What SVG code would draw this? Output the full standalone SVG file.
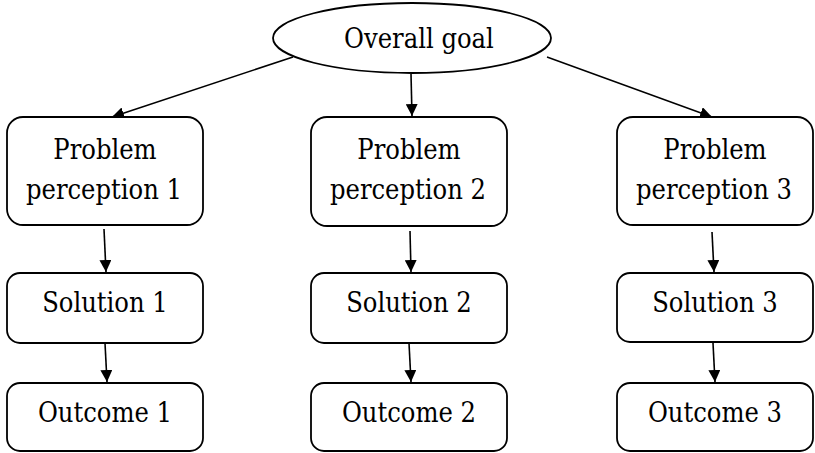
<svg xmlns="http://www.w3.org/2000/svg" width="815" height="453" viewBox="0 0 815 453">
  <style>
    .box { fill: #ffffff; stroke: #000000; stroke-width: 1.8; }
    .lbl { font-family: 'DejaVu Serif Condensed', 'DejaVu Serif', 'Liberation Serif', serif; font-stretch: condensed; font-size: 27px; fill: #000000; text-anchor: middle; }
    .edge { stroke: #000000; stroke-width: 1.6; fill: none; marker-end: url(#arrow); }
  </style>
  <defs>
    <marker id="arrow" viewBox="0 0 10 10" refX="10" refY="5" markerWidth="12" markerHeight="12" markerUnits="userSpaceOnUse" orient="auto">
      <path d="M0,0 L10,5 L0,10 Z" fill="#000000"/>
    </marker>
  </defs>
  <rect width="815" height="453" fill="#ffffff"/>

  <g id="connectors">
    <line class="edge" x1="293" y1="57" x2="112" y2="117"/>
    <line class="edge" x1="411" y1="74" x2="412" y2="116"/>
    <line class="edge" x1="547" y1="57" x2="712" y2="117"/>
    <line class="edge" x1="104" y1="229" x2="106" y2="272"/>
    <line class="edge" x1="410" y1="231" x2="411" y2="272"/>
    <line class="edge" x1="712" y1="232" x2="714" y2="272"/>
    <line class="edge" x1="105" y1="343" x2="107" y2="382"/>
    <line class="edge" x1="409" y1="343" x2="411" y2="382"/>
    <line class="edge" x1="713" y1="343" x2="715" y2="382"/>
  </g>

  <g id="goal">
    <ellipse class="box" cx="412" cy="38" rx="139" ry="35"/>
    <text class="lbl" x="419" y="48">Overall goal</text>
  </g>

  <g id="problem1">
    <rect class="box" x="7" y="117" width="196" height="108" rx="16"/>
    <text class="lbl" x="105" y="159">Problem</text>
    <text class="lbl" x="104" y="199">perception 1</text>
  </g>
  <g id="problem2">
    <rect class="box" x="311" y="117" width="196" height="109" rx="16"/>
    <text class="lbl" x="409" y="159">Problem</text>
    <text class="lbl" x="408" y="199">perception 2</text>
  </g>
  <g id="problem3">
    <rect class="box" x="617" y="117" width="196" height="108" rx="16"/>
    <text class="lbl" x="715" y="159">Problem</text>
    <text class="lbl" x="714" y="199">perception 3</text>
  </g>

  <g id="solution1">
    <rect class="box" x="7" y="273" width="196" height="70" rx="13"/>
    <text class="lbl" x="105" y="312">Solution 1</text>
  </g>
  <g id="solution2">
    <rect class="box" x="311" y="273" width="196" height="70" rx="13"/>
    <text class="lbl" x="409" y="312">Solution 2</text>
  </g>
  <g id="solution3">
    <rect class="box" x="617" y="273" width="196" height="69" rx="13"/>
    <text class="lbl" x="715" y="312">Solution 3</text>
  </g>

  <g id="outcome1">
    <rect class="box" x="7" y="383" width="196" height="68" rx="13"/>
    <text class="lbl" x="105" y="422">Outcome 1</text>
  </g>
  <g id="outcome2">
    <rect class="box" x="311" y="383" width="196" height="68" rx="13"/>
    <text class="lbl" x="409" y="422">Outcome 2</text>
  </g>
  <g id="outcome3">
    <rect class="box" x="617" y="383" width="196" height="68" rx="13"/>
    <text class="lbl" x="715" y="422">Outcome 3</text>
  </g>
</svg>
